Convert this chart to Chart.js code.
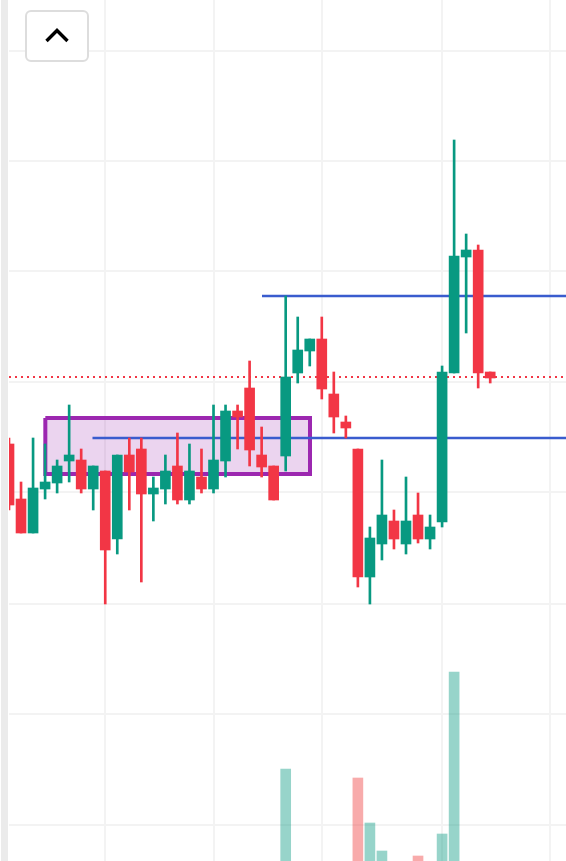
<!DOCTYPE html>
<html>
<head>
<meta charset="utf-8">
<title>Candles</title>
<script src="https://cdn.jsdelivr.net/npm/chart.js@4/dist/chart.umd.min.js"></script>
<style>
  html,body{margin:0;padding:0;background:#fff;width:566px;height:861px;overflow:hidden}
  #wrap{position:relative;width:566px;height:861px}
  #chart{position:absolute;left:0;top:0}
  #strip{position:absolute;left:1px;top:0;width:7px;height:861px;background:#ebebeb}
  #toggle{position:absolute;left:25px;top:10px;width:64px;height:52px;box-sizing:border-box;
    background:#fff;border:2px solid #ddd;border-radius:6px;padding:0}
  #toggle svg{position:absolute;left:-2px;top:-2px}
</style>
</head>
<body>
<div id="wrap">
  <canvas id="chart" width="566" height="861"></canvas>
  <div id="strip"></div>
  <button id="toggle" aria-label="collapse">
    <svg width="64" height="52"><polyline points="21.5,31 32,20.5 42.5,31" fill="none" stroke="#000" stroke-width="3.4"/></svg>
  </button>
</div>
<script>
// prices, one entry per candle
const highs  = [42.3,37.9,42.3,41.7,40.1,45.6,41.2,39.5,39.0,40.6,42.3,42.3,38.4,40.6,42.8,41.7,41.2,45.6,45.6,45.6,50.0,43.4,39.5,56.5,54.4,52.2,54.4,48.9,44.5,41.2,33.4,40.1,35.1,38.4,36.8,34.6,49.5,72.1,62.7,61.6,48.9];
const opens  = [41.7,36.2,32.8,37.2,37.8,40.0,40.1,37.2,39.0,32.2,40.6,41.2,36.7,37.2,39.5,36.1,38.4,37.2,40.0,45.0,47.3,40.6,39.5,40.5,48.8,51.0,52.2,46.7,43.9,41.2,28.4,31.7,34.0,31.7,34.6,32.2,33.9,48.8,60.4,61.1,48.9];
const closes = [35.6,32.8,37.3,37.9,39.5,40.6,37.2,39.5,31.1,40.6,38.9,36.7,37.3,39.0,36.1,39.0,37.2,40.1,45.0,44.4,41.1,39.4,36.1,48.4,51.1,52.2,47.2,44.4,43.3,28.4,32.3,34.6,32.2,34.0,32.2,33.4,48.9,60.5,61.1,48.8,48.3];
const lows   = [35.1,32.8,32.8,36.2,36.8,37.9,36.8,35.1,25.7,30.7,35.1,27.9,34.0,35.7,35.7,35.7,36.8,36.8,38.4,41.2,39.5,38.4,36.1,39.0,47.8,49.5,46.2,42.8,42.3,27.4,25.7,30.1,31.2,30.7,31.8,31.2,33.4,48.8,52.8,47.3,47.8];
// only the tallest volume bars reach into the window
const volumes = [null,null,null,null,null,null,null,null,null,null,null,null,null,null,null,null,null,null,null,null,null,null,null,9.2,null,null,null,null,null,8.3,3.8,1.0,null,null,0.5,null,2.7,18.9,null,null,null];

const priceTicks = [3.6,14.75,25.7,36.85,47.85,58.95,69.95,80.95];
const timeTicks = [8,17,26,36,45];

const lastPrice = 48.4;
const levelHigh = {from:21.03, price:56.5};
const levelLow = {from:6.94, price:42.3};
const zoneLeft = 3.02, zoneRight = 25.02, zoneTop = 44.3, zoneBottom = 38.7;

const GREEN = '#089981', RED = '#f23645', BLUE = '#3a5cce', PURPLE = '#9c27b0';
const X_MAX = 46.3, Y_MAX = 86.1;

const isUp = i => closes[i] >= opens[i];
const candleColors = highs.map((h,i)=> isUp(i) ? GREEN : RED);
const volumeColors = highs.map((h,i)=> isUp(i) ? 'rgba(8,153,129,0.42)' : 'rgba(238,60,60,0.43)');

const wicks = highs.map((h,i)=>({x:i, y:[lows[i],h]}));
const bodies = highs.map((h,i)=>({x:i, y:[opens[i],closes[i]]}));
const vols = volumes.map((v,i)=>({x:i, y:v}));

function hline(from,price,color,width,dash,order){
  return {type:'line', data:[{x:from,y:price},{x:X_MAX,y:price}], borderColor:color, borderWidth:width,
    borderDash:dash, pointRadius:0, fill:false, tension:0, order:order};
}

function setTicks(values){
  return scale => { scale.ticks = values.map(v=>({value:v})); };
}

new Chart(document.getElementById('chart'),{
  type:'bar',
  data:{datasets:[
    {data:vols, yAxisID:'yVol', backgroundColor:volumeColors, barThickness:10, grouped:false, order:6},
    {type:'line', label:'zone', order:5, pointRadius:0, tension:0,
      data:[{x:zoneLeft,y:zoneTop},{x:zoneRight,y:zoneTop},{x:zoneRight,y:zoneBottom},{x:zoneLeft,y:zoneBottom},{x:zoneLeft,y:zoneTop}],
      borderColor:PURPLE, borderWidth:4, borderJoinStyle:'miter', fill:'shape', backgroundColor:'rgba(156,39,176,0.2)'},
    hline(levelHigh.from,levelHigh.price,BLUE,2.4,[],4),
    hline(levelLow.from,levelLow.price,BLUE,2.4,[],4),
    hline(0,lastPrice,RED,2,[2,4],3),
    {data:wicks, backgroundColor:candleColors, barThickness:2, grouped:false, order:2},
    {data:bodies, backgroundColor:candleColors, barThickness:10, grouped:false, order:1}
  ]},
  options:{
    responsive:false,
    animation:false,
    devicePixelRatio:1,
    layout:{padding:{left:9,right:0,top:0,bottom:0}},
    plugins:{legend:{display:false},tooltip:{enabled:false}},
    scales:{
      x:{type:'linear', min:0, max:X_MAX, offset:false,
        grid:{color:'#f3f3f3',lineWidth:2,drawTicks:false,offset:false},
        border:{display:false}, ticks:{display:false}, afterBuildTicks:setTicks(timeTicks)},
      y:{type:'linear', min:0, max:Y_MAX,
        grid:{color:'#f3f3f3',lineWidth:2,drawTicks:false},
        border:{display:false}, ticks:{display:false}, afterBuildTicks:setTicks(priceTicks)},
      yVol:{type:'linear', display:false, min:0, max:Y_MAX}
    }
  }
});
</script>
</body>
</html>
